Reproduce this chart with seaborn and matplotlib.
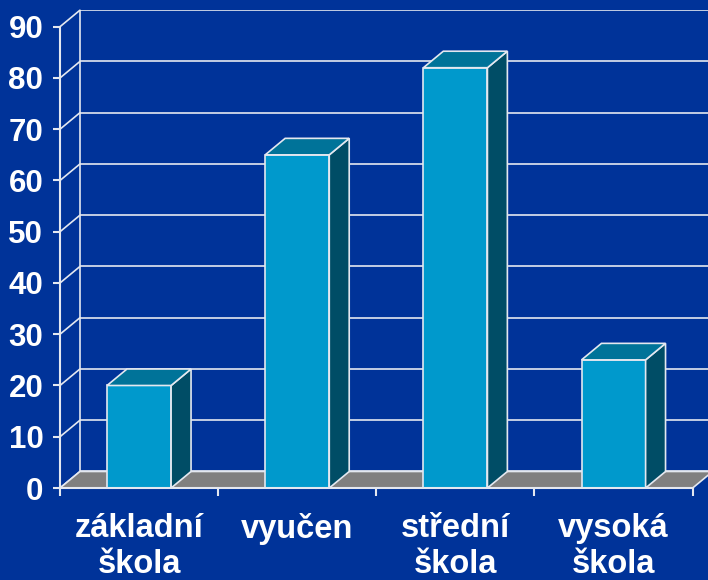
import matplotlib
matplotlib.use("Agg")
import matplotlib.pyplot as plt
from matplotlib.patches import Polygon
import seaborn as sns
import pandas as pd

# data
categories = ["základní\nškola", "vyučen", "střední\nškola", "vysoká\nškola"]
values = [20, 65, 82, 25]
y_ticks = [0, 10, 20, 30, 40, 50, 60, 70, 80, 90]

bg = "#003399"
front_col = "#0099CC"
top_col = "#007399"
side_col = "#004D66"
floor_col = "#808080"
line_col = "#E4E8F0"

sns.set_theme(style="white")
plt.rcParams["font.family"] = ["Liberation Sans", "DejaVu Sans"]
plt.rcParams["font.weight"] = "bold"

fig = plt.figure(figsize=(7.08, 5.8), dpi=100)
fig.patch.set_facecolor(bg)
ax = fig.add_axes([60 / 708, (580 - 488) / 580, 648 / 708, 478 / 580])
ax.set_facecolor(bg)

# 3d depth offset in data units
dx = 0.126
dy = 3.22
xmax = 3.597

df = pd.DataFrame({"cat": categories, "val": values})
sns.barplot(data=df, x="cat", y="val", color=front_col, width=0.405,
            edgecolor=line_col, linewidth=1.2, saturation=1, ax=ax)

# back wall grid
ax.hlines([t + dy for t in y_ticks], -0.5 + dx, xmax, color=line_col, lw=1.2, zorder=1)
ax.vlines(-0.5 + dx, dy, 90 + dy, color=line_col, lw=1.2, zorder=1)
for t in y_ticks:
    ax.plot([-0.5, -0.5 + dx], [t, t + dy], color=line_col, lw=1.2, zorder=1, clip_on=False)

# floor
floor = Polygon([(-0.5, 0), (3.5, 0), (3.5 + dx, dy), (-0.5 + dx, dy)],
                facecolor=floor_col, edgecolor=line_col, lw=1.2, zorder=2)
ax.add_patch(floor)

# side and top faces of the bars
for p in list(ax.patches):
    if p is floor:
        continue
    p.set_zorder(3)
    x0, w, h = p.get_x(), p.get_width(), p.get_height()
    x1 = x0 + w
    side = Polygon([(x1, 0), (x1, h), (x1 + dx, h + dy), (x1 + dx, dy)],
                   facecolor=side_col, edgecolor=line_col, lw=1.2, zorder=3)
    top = Polygon([(x0, h), (x1, h), (x1 + dx, h + dy), (x0 + dx, h + dy)],
                  facecolor=top_col, edgecolor=line_col, lw=1.2, zorder=3)
    ax.add_patch(side)
    ax.add_patch(top)

ax.set_xlim(-0.5, xmax)
ax.set_ylim(0, 93.26)

for s in ["top", "right"]:
    ax.spines[s].set_visible(False)
ax.spines["left"].set_bounds(0, 90)
ax.spines["bottom"].set_bounds(-0.5, 3.5)
for s in ["left", "bottom"]:
    ax.spines[s].set_color(line_col)
    ax.spines[s].set_linewidth(1.5)
    ax.spines[s].set_zorder(4)

ax.set_yticks(y_ticks)
ax.set_yticklabels([str(t) for t in y_ticks], fontsize=22.5, fontweight="bold", color="white")
ax.tick_params(axis="y", which="major", length=5, width=1.5, color=line_col, pad=7, left=True)

ax.set_xticks(range(len(categories)))
ax.set_xticklabels(categories, fontsize=23.5, fontweight="bold", color="white",
                   linespacing=1.22, va="top")
ax.set_xticks([-0.5, 0.5, 1.5, 2.5, 3.5], minor=True)
ax.tick_params(axis="x", which="major", length=0, pad=18)
ax.tick_params(axis="x", which="minor", length=6, width=1.5, color=line_col, bottom=True)

ax.set_xlabel("")
ax.set_ylabel("")
ax.grid(False)

fig.savefig("out.png", dpi=100, facecolor=bg)
